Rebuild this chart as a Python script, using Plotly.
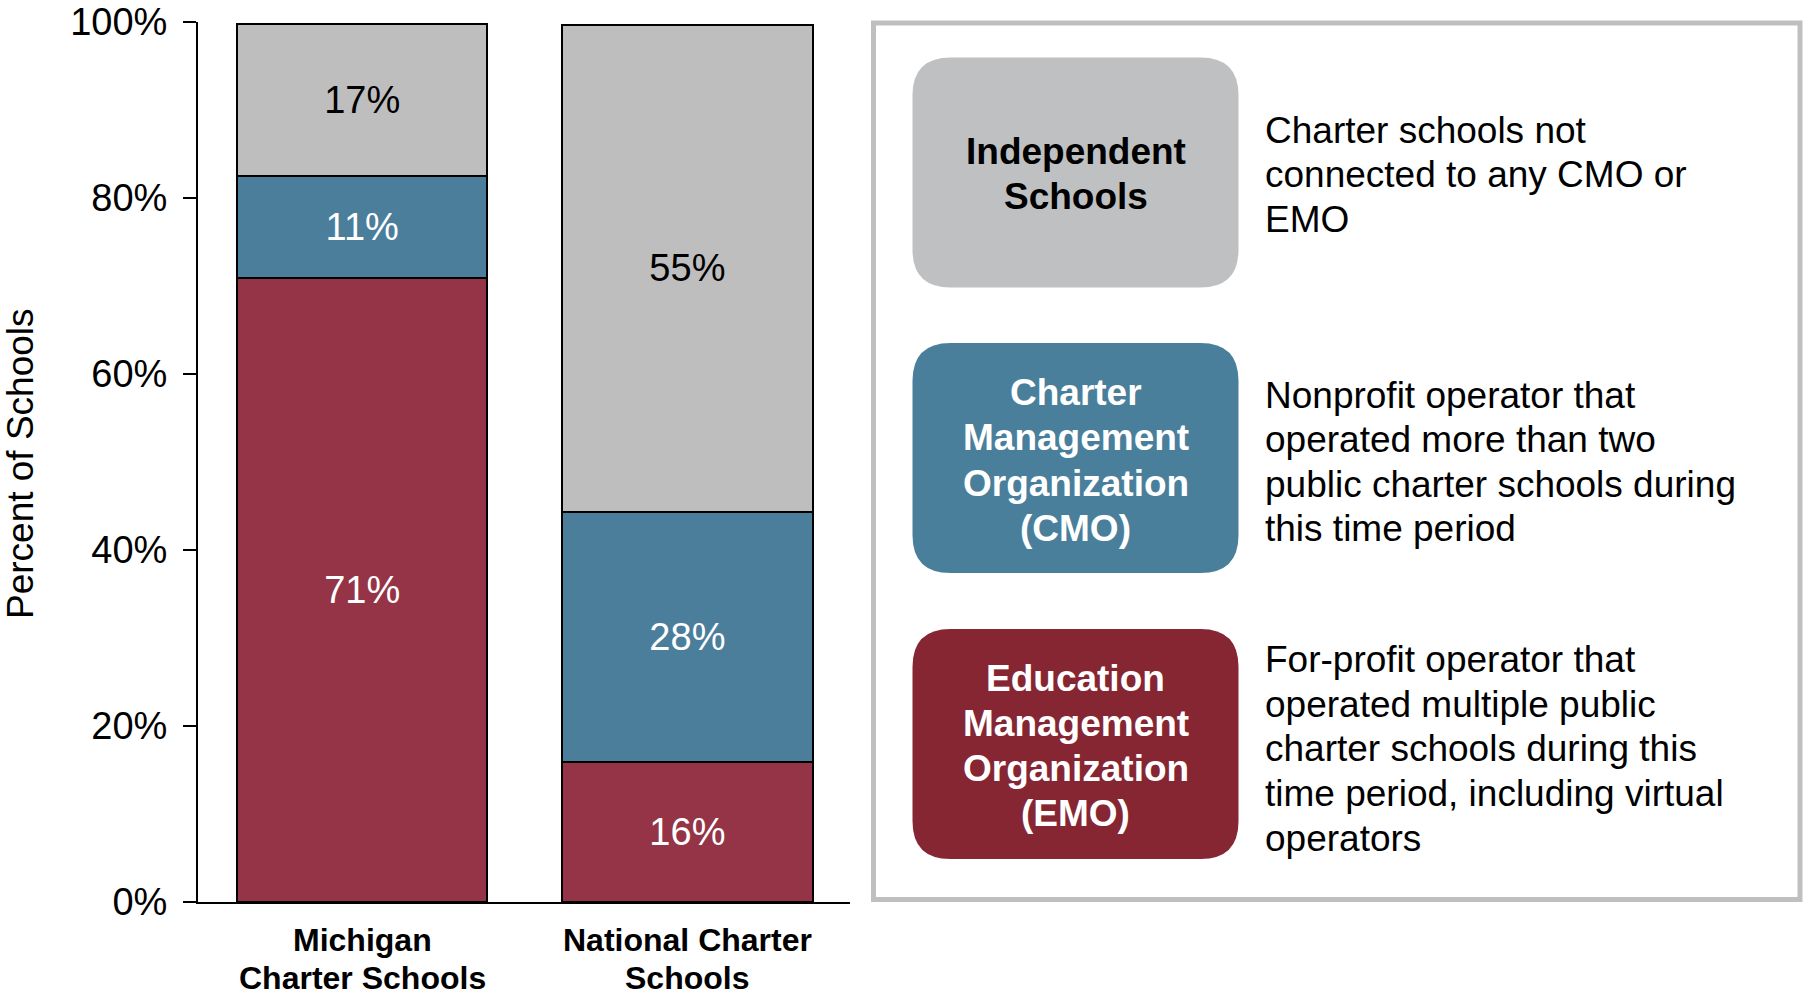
import plotly.graph_objects as go

W, H = 1807, 996
FONT = "Liberation Sans, Arial, sans-serif"

# ---------------- data ----------------
categories = ["Michigan Charter Schools", "National Charter Schools"]
category_lines = [["Michigan", "Charter Schools"], ["National Charter", "Schools"]]

emo_values = [70.9, 15.9]
cmo_values = [11.6, 28.4]
independent_values = [17.3, 55.4]

emo_labels = ["71%", "16%"]
cmo_labels = ["11%", "28%"]
independent_labels = ["17%", "55%"]

y_tick_values = [0, 20, 40, 60, 80, 100]
y_tick_labels = ["0%", "20%", "40%", "60%", "80%", "100%"]
y_title = "Percent of Schools"

box_titles = [
    ["Independent", "Schools"],
    ["Charter", "Management", "Organization", "(CMO)"],
    ["Education", "Management", "Organization", "(EMO)"],
]
box_descriptions = [
    ["Charter schools not", "connected to any CMO or", "EMO"],
    ["Nonprofit operator that", "operated more than two", "public charter schools during", "this time period"],
    ["For-profit operator that", "operated multiple public", "charter schools during this",
     "time period, including virtual", "operators"],
]

# ---------------- style ----------------
BAR_RED = "#943446"
BAR_BLUE = "#4A7E9B"
BAR_GRAY = "#BEBEBE"
BOX_COLORS = ["#BFC0C2", "#4A7F9C", "#862633"]
BOX_TEXT_COLORS = ["black", "white", "white"]


def px(x):
    return x / W


def py(y):
    return 1 - y / H


fig = go.Figure()

series = [
    (emo_values, emo_labels, BAR_RED, "white", "EMO"),
    (cmo_values, cmo_labels, BAR_BLUE, "white", "CMO"),
    (independent_values, independent_labels, BAR_GRAY, "black", "Independent"),
]
for vals, labels, color, tcolor, name in series:
    fig.add_trace(go.Bar(
        x=categories, y=vals, name=name, text=labels,
        textposition="inside", insidetextanchor="middle", textangle=0,
        textfont=dict(family=FONT, size=38, color=tcolor),
        marker=dict(color=color, line=dict(color="black", width=2)),
        width=0.77, hoverinfo="skip",
    ))

annotations = []

# category labels
cat_line_y = [940, 978]
for cat, lines in zip(categories, category_lines):
    for line, yy in zip(lines, cat_line_y):
        annotations.append(dict(
            x=cat, xref="x", y=py(yy), yref="paper", text=line, showarrow=False,
            xanchor="center", yanchor="middle",
            font=dict(family=FONT, size=32, color="black", weight="bold"),
        ))

# y-axis title
annotations.append(dict(
    x=px(20), y=py(464), xref="paper", yref="paper", text=y_title, textangle=-90,
    showarrow=False, xanchor="center", yanchor="middle",
    font=dict(family=FONT, size=37, color="black"),
))

# legend panel
shapes = [dict(
    type="rect", xref="paper", yref="paper",
    x0=px(873.5), x1=px(1800), y0=py(899.5), y1=py(23),
    line=dict(color="#BFBFBF", width=5), fillcolor="white", layer="below",
)]

box_rects = [(912.5, 57.5, 1238.5, 287.5), (912.5, 343, 1238.5, 573), (912.5, 629, 1238.5, 859)]
title_line_y = [[151, 196], [392, 437.5, 483, 528.5], [678, 723, 768, 813]]
desc_line_y = [[130, 174.7, 219.4], [395, 439.6, 484.2, 528.8], [659.5, 704.2, 748.9, 793.6, 838.3]]
R = 38


def rounded_path(x0, y0, x1, y1, r):
    rx, ry = r / W, r / H
    X0, X1 = px(x0), px(x1)
    Y0, Y1 = py(y0), py(y1)  # Y0 top (larger), Y1 bottom
    return (f"M {X0+rx},{Y0} L {X1-rx},{Y0} Q {X1},{Y0} {X1},{Y0-ry} "
            f"L {X1},{Y1+ry} Q {X1},{Y1} {X1-rx},{Y1} "
            f"L {X0+rx},{Y1} Q {X0},{Y1} {X0},{Y1+ry} "
            f"L {X0},{Y0-ry} Q {X0},{Y0} {X0+rx},{Y0} Z")


for i, (x0, y0, x1, y1) in enumerate(box_rects):
    shapes.append(dict(
        type="path", xref="paper", yref="paper", path=rounded_path(x0, y0, x1, y1, R),
        fillcolor=BOX_COLORS[i], line=dict(width=0), layer="above",
    ))
    cx = (x0 + x1) / 2
    for line, yy in zip(box_titles[i], title_line_y[i]):
        annotations.append(dict(
            x=px(cx), y=py(yy), xref="paper", yref="paper", text=line, showarrow=False,
            xanchor="center", yanchor="middle",
            font=dict(family=FONT, size=37, color=BOX_TEXT_COLORS[i], weight="bold"),
        ))
    for line, yy in zip(box_descriptions[i], desc_line_y[i]):
        annotations.append(dict(
            x=px(1262.5), y=py(yy), xref="paper", yref="paper", text=line, showarrow=False,
            xanchor="left", yanchor="middle",
            font=dict(family=FONT, size=37, color="black"),
        ))

fig.update_layout(
    width=W, height=H, margin=dict(l=0, r=0, t=0, b=0, autoexpand=False),
    paper_bgcolor="white", plot_bgcolor="rgba(0,0,0,0)",
    barmode="stack", showlegend=False,
    font=dict(family=FONT, color="black"),
    xaxis=dict(
        domain=[px(198), px(850)], range=[-0.505, 1.5], type="category",
        showline=True, linecolor="black", linewidth=2, showticklabels=False,
        ticks="", showgrid=False, zeroline=False, fixedrange=True,
    ),
    yaxis=dict(
        domain=[py(902), py(22)], range=[0, 100],
        tickvals=y_tick_values, ticktext=y_tick_labels,
        ticks="outside", ticklen=13, tickwidth=2, tickcolor="black",
        showline=True, linecolor="black", linewidth=2,
        showgrid=False, zeroline=False, fixedrange=True,
        tickfont=dict(family=FONT, size=38, color="black"),
        ticklabelstandoff=8,
    ),
    shapes=shapes, annotations=annotations,
)

fig.write_html(
    "out.html",
    config={"displayModeBar": False},
    post_script="document.body.style.margin='0';document.body.style.overflow='hidden';",
)
